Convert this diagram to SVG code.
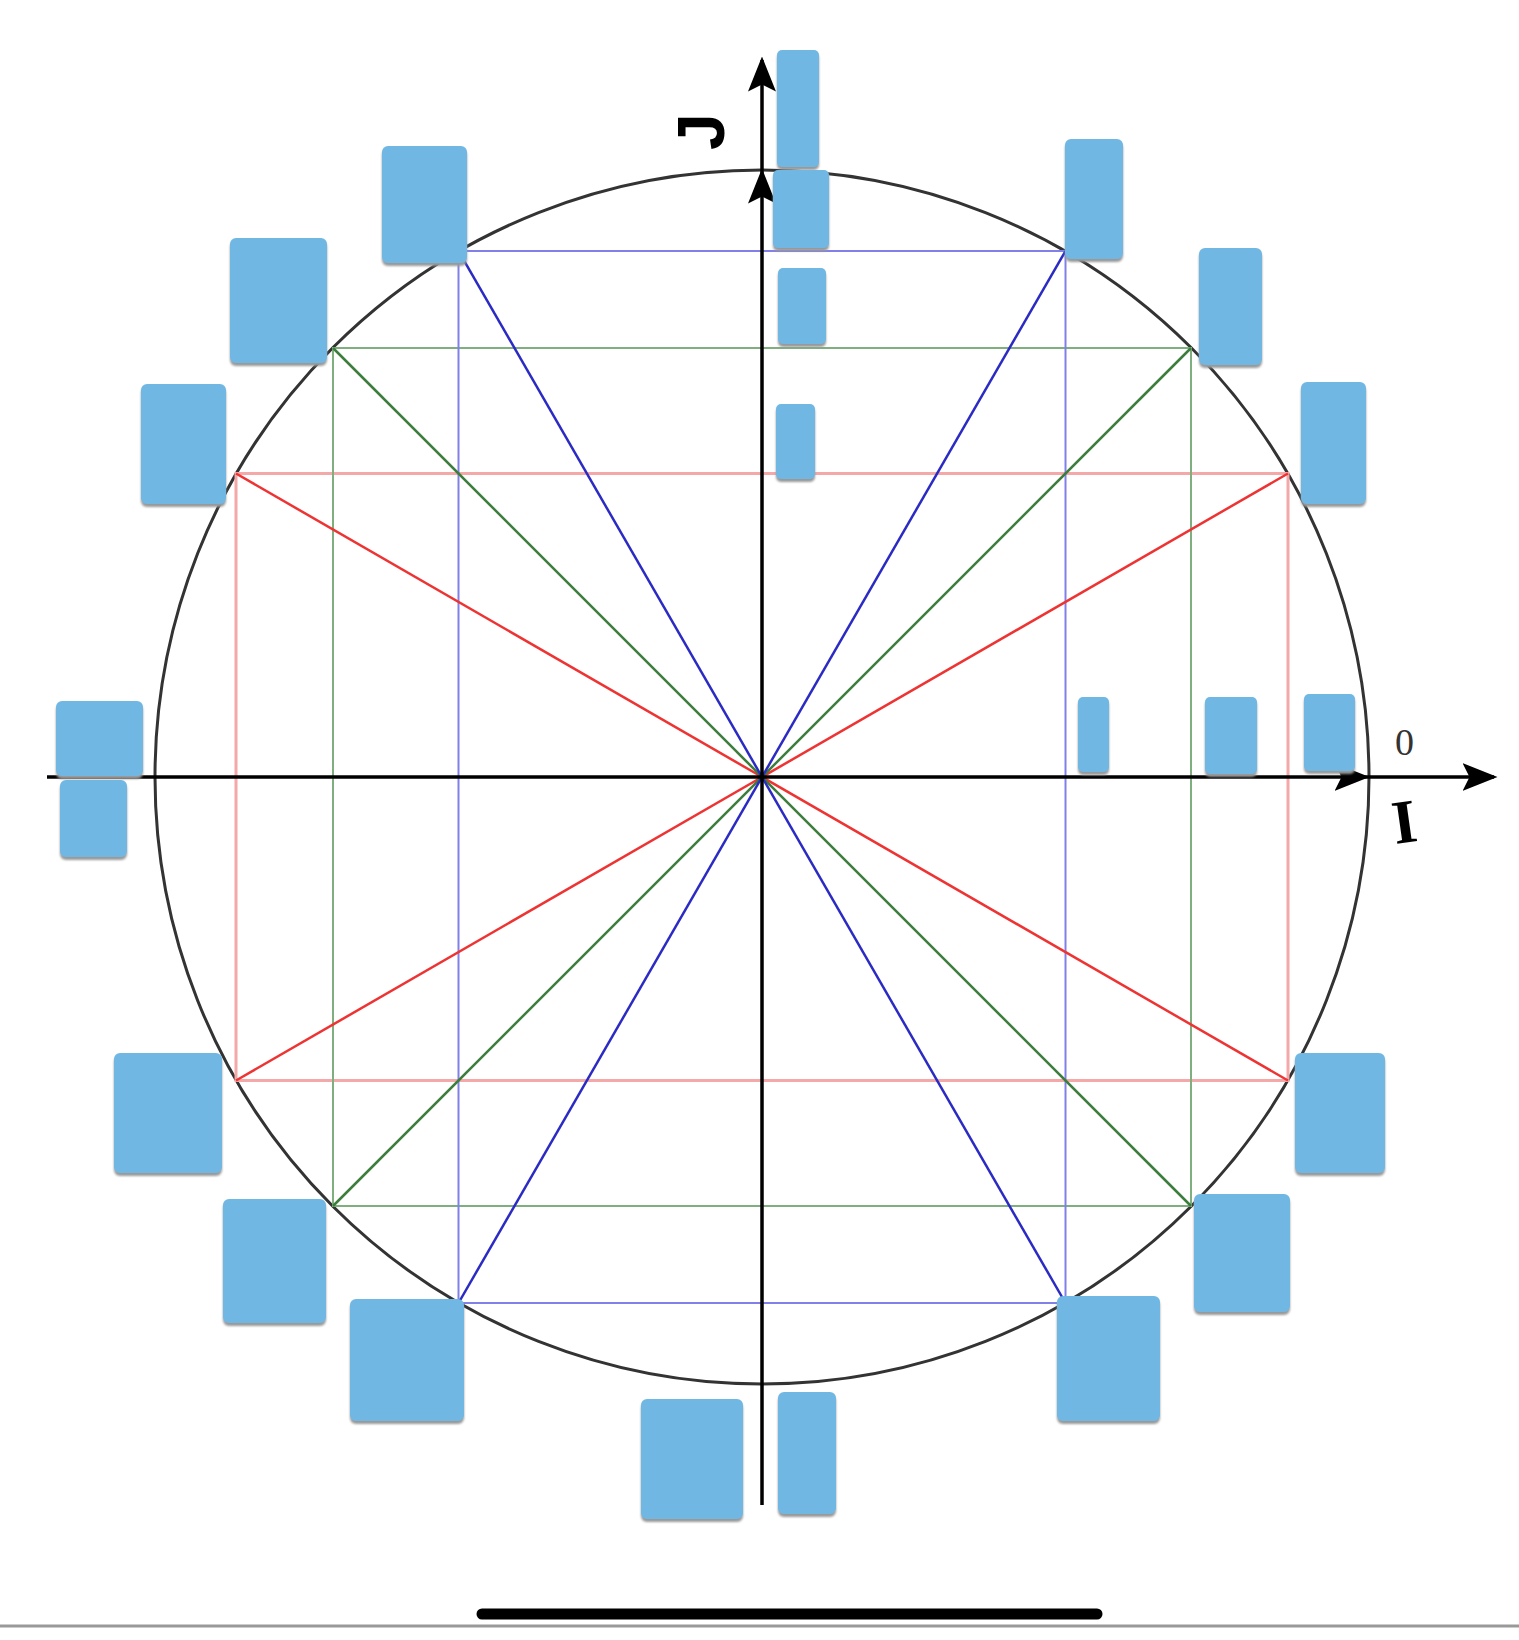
<svg xmlns="http://www.w3.org/2000/svg" width="1519" height="1640" viewBox="0 0 1519 1640">
<style>
.b{fill:#6fb8e3;filter:url(#sh)}
.ax{stroke:#000;stroke-width:3.5;fill:none}
</style>
<defs>
<marker id="ar" markerWidth="10" markerHeight="8" refX="9" refY="4" orient="auto" markerUnits="strokeWidth"><path d="M0,0 L10,4 L0,8 L2,4 z" fill="#000"/></marker>
<filter id="sh" x="-10%" y="-10%" width="120%" height="120%"><feDropShadow dx="0" dy="3" stdDeviation="0.8" flood-color="#999"/></filter>
</defs>
<rect width="1519" height="1640" fill="#fff"/>
<g id="shapes">
<circle cx="762" cy="777" r="607" fill="none" stroke="#333" stroke-width="3"/>
<rect x="236" y="473.5" width="1052" height="607" fill="none" stroke="#f4a8a8" stroke-width="3"/>
<rect x="333" y="348" width="858" height="858" fill="none" stroke="#7fae7f" stroke-width="2"/>
<rect x="458.5" y="251" width="607" height="1052" fill="none" stroke="#8080e8" stroke-width="2"/>
<g stroke-width="2.5">
<line x1="236" y1="473.5" x2="1288" y2="1080.5" stroke="#e33"/>
<line x1="1288" y1="473.5" x2="236" y2="1080.5" stroke="#e33"/>
<line x1="333" y1="348" x2="1191" y2="1206" stroke="#3b7d3b"/>
<line x1="1191" y1="348" x2="333" y2="1206" stroke="#3b7d3b"/>
<line x1="458.5" y1="251" x2="1065.5" y2="1303" stroke="#2b2bc4"/>
<line x1="1065.5" y1="251" x2="458.5" y2="1303" stroke="#2b2bc4"/>
</g>
</g>
<g id="axes">
<line class="ax" x1="47" y1="777" x2="1366" y2="777" marker-end="url(#ar)"/>
<line class="ax" x1="1366" y1="777" x2="1494" y2="777" marker-end="url(#ar)"/>
<line class="ax" x1="762" y1="1505" x2="762" y2="172" marker-end="url(#ar)"/>
<line class="ax" x1="762" y1="172" x2="762" y2="60" marker-end="url(#ar)"/>
</g>
<g id="labels">
<text x="1395" y="755" font-size="38" fill="#333" font-family="Liberation Serif, serif">0</text>
<text x="1392" y="842" font-size="62" font-family="Liberation Serif, serif" font-weight="bold" transform="rotate(-8 1408 820)">I</text>
<text x="678" y="152" font-size="66" font-weight="bold" font-family="Liberation Sans, sans-serif" transform="rotate(-90 700 128)">J</text>
</g>
<g id="patches">
<rect class="b" x="777" y="50" width="42" height="117" rx="5"/>
<rect class="b" x="773" y="170" width="56" height="78" rx="5"/>
<rect class="b" x="778" y="268" width="48" height="76" rx="5"/>
<rect class="b" x="776" y="404" width="39" height="75" rx="5"/>
<rect class="b" x="382" y="146" width="85" height="117" rx="6"/>
<rect class="b" x="230" y="238" width="97" height="125" rx="6"/>
<rect class="b" x="141" y="384" width="85" height="120" rx="6"/>
<rect class="b" x="56" y="701" width="87" height="75" rx="6"/>
<rect class="b" x="60" y="780" width="67" height="77" rx="6"/>
<rect class="b" x="114" y="1053" width="108" height="120" rx="6"/>
<rect class="b" x="223" y="1199" width="103" height="124" rx="6"/>
<rect class="b" x="350" y="1299" width="114" height="122" rx="6"/>
<rect class="b" x="641" y="1399" width="102" height="120" rx="6"/>
<rect class="b" x="778" y="1392" width="58" height="122" rx="6"/>
<rect class="b" x="1057" y="1296" width="103" height="125" rx="6"/>
<rect class="b" x="1194" y="1194" width="96" height="118" rx="6"/>
<rect class="b" x="1295" y="1053" width="90" height="120" rx="6"/>
<rect class="b" x="1301" y="382" width="65" height="122" rx="6"/>
<rect class="b" x="1199" y="248" width="63" height="117" rx="6"/>
<rect class="b" x="1065" y="139" width="58" height="120" rx="6"/>
<rect class="b" x="1078" y="697" width="31" height="75" rx="5"/>
<rect class="b" x="1205" y="697" width="52" height="77" rx="5"/>
<rect class="b" x="1304" y="694" width="51" height="77" rx="5"/>
</g>
<g id="chrome">
<line x1="482" y1="1614" x2="1097" y2="1614" stroke="#000" stroke-width="11" stroke-linecap="round"/>
<line x1="0" y1="1626" x2="1519" y2="1626" stroke="#999" stroke-width="3"/>
</g>
</svg>
